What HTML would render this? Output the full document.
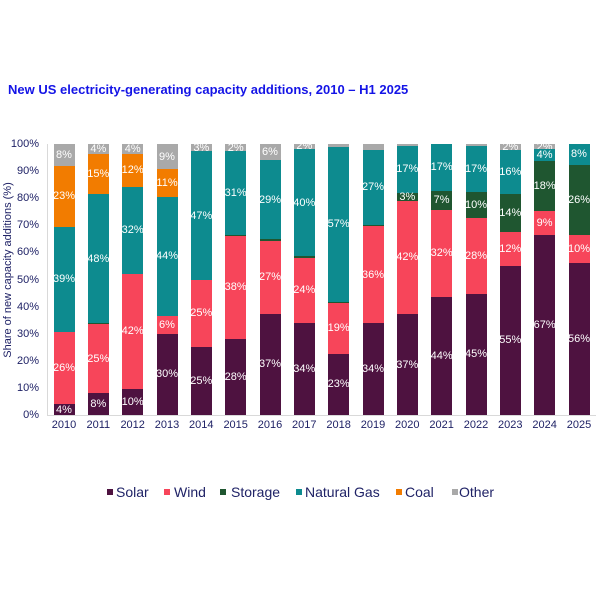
<!DOCTYPE html>
<html>
<head>
<meta charset="utf-8">
<style>
  html,body{margin:0;padding:0;background:#fff;}
  #c{position:relative;width:600px;height:600px;overflow:hidden;font-family:"Liberation Sans",Arial,sans-serif;}
  .title{position:absolute;left:8px;top:82px;font-size:13px;font-weight:bold;color:#1414e6;white-space:nowrap;line-height:15px;}
  .yt{position:absolute;right:561px;font-size:11px;color:#1f2266;line-height:12px;text-align:right;white-space:nowrap;}
  .ytitle{position:absolute;left:8px;top:270px;transform:translate(-50%,-50%) rotate(-90deg);font-size:11px;color:#1f2266;white-space:nowrap;}
  .bar{position:absolute;top:144px;height:271px;width:21px;display:flex;flex-direction:column-reverse;}
  .s{width:100%;display:flex;align-items:center;justify-content:center;overflow:visible;color:#fff;font-size:11px;line-height:0;white-space:nowrap;flex:none;}
  .so{background:#4e1240;}
  .wi{background:#f7455a;}
  .st{background:#1f5630;}
  .ga{background:#0d8b8f;}
  .co{background:#f27c00;}
  .ot{background:#a9a9a9;}
  .yr{position:absolute;top:419px;width:40px;margin-left:-20px;text-align:center;font-size:11px;color:#1f2266;line-height:12px;}
  .ax{position:absolute;background:#d9d9d9;}
  .lg{position:absolute;top:484px;font-size:14px;color:#1f2266;line-height:16px;white-space:nowrap;}
  .sq{position:absolute;top:489px;width:6px;height:6px;}
</style>
</head>
<body>
<div id="c">
  <div class="title">New US electricity-generating capacity additions, 2010 – H1 2025</div>

  <div class="ytitle">Share of new capacity additions (%)</div>

  <div class="yt" style="top:138px">100%</div>
  <div class="yt" style="top:165px">90%</div>
  <div class="yt" style="top:192px">80%</div>
  <div class="yt" style="top:219px">70%</div>
  <div class="yt" style="top:246px">60%</div>
  <div class="yt" style="top:274px">50%</div>
  <div class="yt" style="top:301px">40%</div>
  <div class="yt" style="top:328px">30%</div>
  <div class="yt" style="top:355px">20%</div>
  <div class="yt" style="top:382px">10%</div>
  <div class="yt" style="top:409px">0%</div>

  <div class="ax" style="left:47px;top:144px;width:1px;height:271px;"></div>
  <div class="ax" style="left:47px;top:415px;width:549px;height:1px;"></div>

  <!-- 2010 -->
  <div class="bar" style="left:53.5px">
    <div class="s so" style="height:4%">4%</div>
    <div class="s wi" style="height:26.7%">26%</div>
    <div class="s ga" style="height:38.7%">39%</div>
    <div class="s co" style="height:22.6%">23%</div>
    <div class="s ot" style="height:8%">8%</div>
  </div>
  <!-- 2011 -->
  <div class="bar" style="left:87.8px">
    <div class="s so" style="height:8%">8%</div>
    <div class="s wi" style="height:25.5%">25%</div>
    <div class="s st" style="height:0.3%"></div>
    <div class="s ga" style="height:47.8%">48%</div>
    <div class="s co" style="height:14.8%">15%</div>
    <div class="s ot" style="height:3.6%">4%</div>
  </div>
  <!-- 2012 -->
  <div class="bar" style="left:122.2px">
    <div class="s so" style="height:9.6%">10%</div>
    <div class="s wi" style="height:42.5%">42%</div>
    <div class="s ga" style="height:32.2%">32%</div>
    <div class="s co" style="height:12.1%">12%</div>
    <div class="s ot" style="height:3.6%">4%</div>
  </div>
  <!-- 2013 -->
  <div class="bar" style="left:156.5px">
    <div class="s so" style="height:30%">30%</div>
    <div class="s wi" style="height:6.6%">6%</div>
    <div class="s ga" style="height:43.8%">44%</div>
    <div class="s co" style="height:10.4%">11%</div>
    <div class="s ot" style="height:9.2%">9%</div>
  </div>
  <!-- 2014 -->
  <div class="bar" style="left:190.8px">
    <div class="s so" style="height:25.1%">25%</div>
    <div class="s wi" style="height:24.8%">25%</div>
    <div class="s ga" style="height:47.4%">47%</div>
    <div class="s ot" style="height:2.7%">3%</div>
  </div>
  <!-- 2015 -->
  <div class="bar" style="left:225.2px">
    <div class="s so" style="height:28.2%">28%</div>
    <div class="s wi" style="height:37.9%">38%</div>
    <div class="s st" style="height:0.5%"></div>
    <div class="s ga" style="height:30.8%">31%</div>
    <div class="s ot" style="height:2.6%">2%</div>
  </div>
  <!-- 2016 -->
  <div class="bar" style="left:259.5px">
    <div class="s so" style="height:37.4%">37%</div>
    <div class="s wi" style="height:26.8%">27%</div>
    <div class="s st" style="height:0.6%"></div>
    <div class="s ga" style="height:29.4%">29%</div>
    <div class="s ot" style="height:5.8%">6%</div>
  </div>
  <!-- 2017 -->
  <div class="bar" style="left:293.8px">
    <div class="s so" style="height:33.9%">34%</div>
    <div class="s wi" style="height:24.2%">24%</div>
    <div class="s st" style="height:0.5%"></div>
    <div class="s ga" style="height:39.6%">40%</div>
    <div class="s ot" style="height:1.8%">2%</div>
  </div>
  <!-- 2018 -->
  <div class="bar" style="left:328.1px">
    <div class="s so" style="height:22.6%">23%</div>
    <div class="s wi" style="height:18.7%">19%</div>
    <div class="s st" style="height:0.5%"></div>
    <div class="s ga" style="height:57.1%">57%</div>
    <div class="s ot" style="height:1.1%"></div>
  </div>
  <!-- 2019 -->
  <div class="bar" style="left:362.5px">
    <div class="s so" style="height:33.8%">34%</div>
    <div class="s wi" style="height:35.9%">36%</div>
    <div class="s st" style="height:0.6%"></div>
    <div class="s ga" style="height:27.6%">27%</div>
    <div class="s ot" style="height:2.1%"></div>
  </div>
  <!-- 2020 -->
  <div class="bar" style="left:396.8px">
    <div class="s so" style="height:37.2%">37%</div>
    <div class="s wi" style="height:41.9%">42%</div>
    <div class="s st" style="height:2.9%">3%</div>
    <div class="s ga" style="height:17.3%">17%</div>
    <div class="s ot" style="height:0.7%"></div>
  </div>
  <!-- 2021 -->
  <div class="bar" style="left:431.1px">
    <div class="s so" style="height:43.7%">44%</div>
    <div class="s wi" style="height:32.1%">32%</div>
    <div class="s st" style="height:6.9%">7%</div>
    <div class="s ga" style="height:17.3%">17%</div>
  </div>
  <!-- 2022 -->
  <div class="bar" style="left:465.5px">
    <div class="s so" style="height:44.8%">45%</div>
    <div class="s wi" style="height:27.8%">28%</div>
    <div class="s st" style="height:9.8%">10%</div>
    <div class="s ga" style="height:17%">17%</div>
    <div class="s ot" style="height:0.6%"></div>
  </div>
  <!-- 2023 -->
  <div class="bar" style="left:499.8px">
    <div class="s so" style="height:55%">55%</div>
    <div class="s wi" style="height:12.4%">12%</div>
    <div class="s st" style="height:14%">14%</div>
    <div class="s ga" style="height:16.4%">16%</div>
    <div class="s ot" style="height:2.2%">2%</div>
  </div>
  <!-- 2024 -->
  <div class="bar" style="left:534.1px">
    <div class="s so" style="height:66.5%">67%</div>
    <div class="s wi" style="height:8.9%">9%</div>
    <div class="s st" style="height:18.3%">18%</div>
    <div class="s ga" style="height:4.3%">4%</div>
    <div class="s ot" style="height:2%">2%</div>
  </div>
  <!-- 2025 -->
  <div class="bar" style="left:568.5px">
    <div class="s so" style="height:56.2%">56%</div>
    <div class="s wi" style="height:10.2%">10%</div>
    <div class="s st" style="height:25.9%">26%</div>
    <div class="s ga" style="height:7.7%">8%</div>
  </div>

  <div class="yr" style="left:64px">2010</div>
  <div class="yr" style="left:98.3px">2011</div>
  <div class="yr" style="left:132.7px">2012</div>
  <div class="yr" style="left:167px">2013</div>
  <div class="yr" style="left:201.3px">2014</div>
  <div class="yr" style="left:235.7px">2015</div>
  <div class="yr" style="left:270px">2016</div>
  <div class="yr" style="left:304.3px">2017</div>
  <div class="yr" style="left:338.6px">2018</div>
  <div class="yr" style="left:373px">2019</div>
  <div class="yr" style="left:407.3px">2020</div>
  <div class="yr" style="left:441.6px">2021</div>
  <div class="yr" style="left:476px">2022</div>
  <div class="yr" style="left:510.3px">2023</div>
  <div class="yr" style="left:544.6px">2024</div>
  <div class="yr" style="left:579px">2025</div>

  <div class="sq so" style="left:107px"></div><div class="lg" style="left:116px">Solar</div>
  <div class="sq wi" style="left:164px"></div><div class="lg" style="left:174px">Wind</div>
  <div class="sq st" style="left:220px"></div><div class="lg" style="left:231px">Storage</div>
  <div class="sq ga" style="left:296px"></div><div class="lg" style="left:305px">Natural Gas</div>
  <div class="sq co" style="left:396px"></div><div class="lg" style="left:405px">Coal</div>
  <div class="sq ot" style="left:452px"></div><div class="lg" style="left:459px">Other</div>
</div>
</body>
</html>
